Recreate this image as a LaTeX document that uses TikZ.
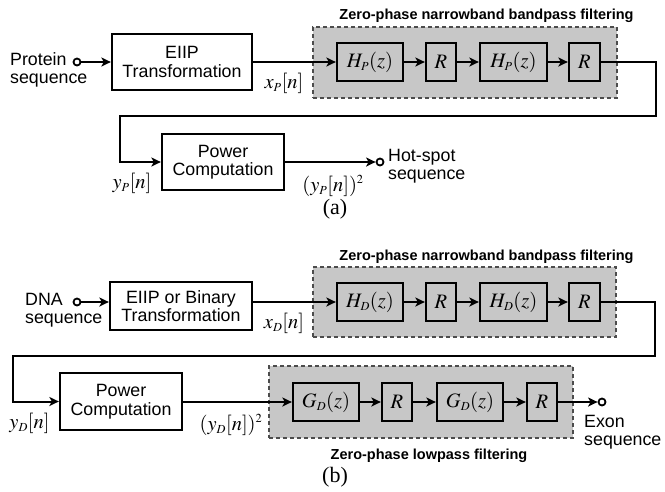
\documentclass[tikz,border=0pt]{standalone}
\usepackage{mathptmx}
\usepackage[no-math]{fontspec}
\newfontfamily\sansface{Liberation Sans}
\newfontfamily\serifface{Liberation Serif}
\usetikzlibrary{arrows.meta}

\definecolor{fillgray}{gray}{0.78}
\definecolor{edgegray}{gray}{0.3}

\newcommand\blockfont{\sansface\fontsize{17.8}{18.5}\selectfont}
\newcommand\mathsize{\fontsize{20.5}{24}\selectfont}
\newcommand\titlefont{\sansface\bfseries\fontsize{14.5}{16}\selectfont}
\newcommand\captionfont{\serifface\fontsize{22}{26}\selectfont}
% small subscripts and superscripts as in the signal names
\newcommand\sub[1]{_{\scriptscriptstyle #1}}
\newcommand\sqr{^{\scriptscriptstyle 2}}

\tikzset{
  blk/.style={draw, line width=2.3pt, inner sep=0pt, align=center, font=\blockfont},
  filt/.style={blk, fill=fillgray, font=\mathsize},
  grp/.style={draw=edgegray, dash pattern=on 4pt off 3pt, line width=1.2pt,
              fill=fillgray, inner sep=0pt},
  wire/.style={line width=2pt},
  arr/.style={wire, -{Stealth[length=9.5pt,width=9pt,inset=2.5pt]}},
  term/.style={circle, draw, line width=1.8pt, fill=white, minimum size=7pt, inner sep=0pt},
  lbl/.style={inner sep=0pt, font=\blockfont, align=left},
  mlbl/.style={inner sep=0pt, font=\mathsize},
  ttl/.style={inner sep=0pt, font=\titlefont},
  subcap/.style={inner sep=0pt, font=\captionfont},
}

\begin{document}
\begin{tikzpicture}[x=1pt, y=-1pt]
\useasboundingbox (0,0) rectangle (665,491);

% ---------------- (a) protein hot-spot chain ----------------
\node[grp, minimum width=304, minimum height=71] (bpA) at (465,62.5) {};
\node[ttl, anchor=base] (ttlA) at (486.5,19) {Zero-phase narrowband bandpass filtering};

\node[term] (inA) at (77,62) {};
\node[lbl, anchor=west] (srcA) at (10,70) {Protein\\sequence};
\node[blk, minimum width=140, minimum height=56] (eiipA) at (182,62) {EIIP\\Transformation};

\node[filt, minimum width=66, minimum height=38] (h1A) at (370,62) {$H\sub{P}(z)$};
\node[filt, minimum width=30, minimum height=38] (r1A) at (441,62) {$R$};
\node[filt, minimum width=67, minimum height=38] (h2A) at (513.5,62) {$H\sub{P}(z)$};
\node[filt, minimum width=31, minimum height=38] (r2A) at (584.5,62) {$R$};

\node[blk, minimum width=122, minimum height=56] (powA) at (223,162) {Power\\Computation};
\node[term] (outA) at (380,162) {};
\node[lbl, anchor=west] (dstA) at (388,166) {Hot-spot\\sequence};

\node[mlbl, anchor=base] (xA) at (284,88) {$x\sub{P}[n]$};
\node[mlbl, anchor=base] (yA) at (132,188) {$y\sub{P}[n]$};
\node[mlbl, anchor=base] (y2A) at (333,191) {$(y\sub{P}[n])\sqr$};
\node[subcap, anchor=base] (capA) at (335,214) {(a)};

\coordinate (cA) at (656,116);
\coordinate (dA) at (120,116);

\draw[arr] (inA) -- (eiipA);
\draw[arr] (eiipA) -- (h1A);
\draw[arr] (h1A) -- (r1A);
\draw[arr] (r1A) -- (h2A);
\draw[arr] (h2A) -- (r2A);
\draw[arr] (r2A.east) -| (cA) -- (dA) |- (powA.west);
\draw[arr] (powA) -- (outA);

% ---------------- (b) DNA exon chain ----------------
\node[grp, minimum width=303, minimum height=70] (bpB) at (464.5,302) {};
\node[ttl, anchor=base] (ttlB) at (486.5,260) {Zero-phase narrowband bandpass filtering};

\node[term] (inB) at (77,302) {};
\node[lbl, anchor=west] (srcB) at (25,310) {DNA\\sequence};
\node[blk, minimum width=142, minimum height=48] (eiipB) at (181,306) {EIIP or Binary\\Transformation};

\node[filt, minimum width=66, minimum height=38] (h1B) at (370,302) {$H\sub{D}(z)$};
\node[filt, minimum width=30, minimum height=38] (r1B) at (441,302) {$R$};
\node[filt, minimum width=67, minimum height=38] (h2B) at (513.5,302) {$H\sub{D}(z)$};
\node[filt, minimum width=31, minimum height=38] (r2B) at (584.5,302) {$R$};

\node[blk, minimum width=122, minimum height=57] (powB) at (121,401.5) {Power\\Computation};

\node[grp, minimum width=304, minimum height=72] (lpB) at (421,402) {};
\node[ttl, anchor=base] (ttlL) at (429,459) {Zero-phase lowpass filtering};
\node[filt, minimum width=66, minimum height=38] (g1B) at (326,402) {$G\sub{D}(z)$};
\node[filt, minimum width=30, minimum height=38] (r3B) at (397,402) {$R$};
\node[filt, minimum width=66, minimum height=38] (g2B) at (470,402) {$G\sub{D}(z)$};
\node[filt, minimum width=30, minimum height=38] (r4B) at (542,402) {$R$};

\node[term] (outB) at (602,402) {};
\node[lbl, anchor=west] (dstB) at (584,432) {Exon\\sequence};

\node[mlbl, anchor=base] (xB) at (284,328) {$x\sub{D}[n]$};
\node[mlbl, anchor=base] (yB) at (29.5,428) {$y\sub{D}[n]$};
\node[mlbl, anchor=base] (y2B) at (231,430) {$(y\sub{D}[n])\sqr$};
\node[subcap, anchor=base] (capB) at (335,482) {(b)};

\coordinate (cB) at (655,356);
\coordinate (dB) at (13,356);

\draw[arr] (inB) -- (inB -| eiipB.west);
\draw[arr] (eiipB.east |- h1B) -- (h1B);
\draw[arr] (h1B) -- (r1B);
\draw[arr] (r1B) -- (h2B);
\draw[arr] (h2B) -- (r2B);
\draw[arr] (r2B.east) -| (cB) -- (dB) |- (powB.west);
\draw[arr] (powB.east |- g1B) -- (g1B);
\draw[arr] (g1B) -- (r3B);
\draw[arr] (r3B) -- (g2B);
\draw[arr] (g2B) -- (r4B);
\draw[arr] (r4B) -- (outB);
\end{tikzpicture}
\end{document}
